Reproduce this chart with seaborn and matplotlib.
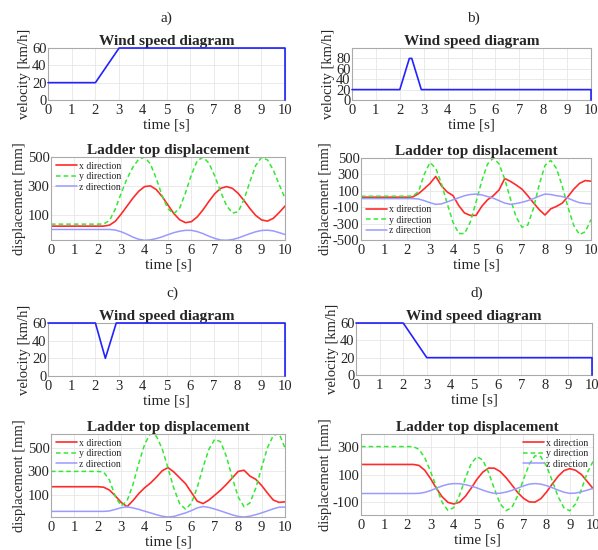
import numpy as np
import seaborn as sns
import matplotlib
matplotlib.use("Agg")
import matplotlib.pyplot as plt

sns.set_style("whitegrid")
plt.rcParams['font.family'] = ['Liberation Serif', 'DejaVu Serif']
plt.rcParams['axes.unicode_minus'] = False

# wind speed profiles: time [s] / velocity [km/h]
wind_a_t = [0, 2, 3, 10, 10]
wind_a_v = [20, 20, 60, 60, 0]
wind_b_t = [0, 2, 2.4, 2.5, 2.9, 10, 10]
wind_b_v = [20, 20, 80, 80, 20, 20, 0]
wind_c_t = [0, 2, 2.42, 2.88, 10, 10]
wind_c_v = [60, 60, 20, 60, 60, 0]
wind_d_t = [0, 2, 3, 10, 10]
wind_d_v = [60, 60, 20, 20, 0]

# ladder top displacement [mm], sampled every 0.25 s
time_s = np.linspace(0, 10, 41)

a_x = [21] * 10 + [28, 55, 105, 160, 215, 263, 295, 300, 274, 226, 167, 108, 65, 45, 52, 85,
                   135, 193, 246, 283, 295, 283, 248, 198, 143, 95, 64, 56, 75, 115, 160]
a_y = [35] * 9 + [36, 60, 140, 250, 350, 430, 485, 499, 451, 350, 232, 141, 107, 147, 252, 378,
                  474, 499, 457, 368, 259, 164, 111, 121, 205, 329, 442, 498, 480, 410, 310, 214]
a_z = [-2] * 11 + [-6, -18, -35, -55, -70, -77, -74, -65, -53, -38, -24, -14, -8, -8, -17,
                   -31, -49, -64, -75, -77, -72, -61, -46, -31, -18, -9, -7, -12, -24, -37]

b_x = [22] * 9 + [25, 65, 125, 190, 275, 160, 85, 42, -80, -170, -200, -200, -90, -10, 40, 110,
                  250, 215, 170, 120, 40, -47, -130, -195, -120, -90, -50, 30, 120, 190, 225, 217]
b_y = [34] * 9 + [36, 90, 300, 445, 375, 186, -57, -285, -420, -422, -283, -39, 220, 425, 500, 429,
                  242, -3, -223, -344, -318, -112, 176, 409, 471, 372, 156, -102, -323, -434, -400, -250]
b_z = [5] * 10 + [0, -20, -45, -65, -60, -35, -10, 15, 40, 55, 60, 50, 30, 10, -20, -50,
                  -65, -55, -40, -20, 5, 35, 60, 55, 40, 30, 10, -20, -45, -55, -60]

c_x = [169] * 9 + [165, 140, 90, 35, -2, 50, 110, 160, 200, 250, 305, 333, 295, 245, 195, 120,
                   45, 25, 55, 97, 140, 190, 245, 300, 310, 260, 232, 180, 115, 55, 35, 40]
c_y = [300] * 9 + [295, 225, 85, 5, 48, 186, 368, 531, 625, 602, 495, 329, 155, 24, -24, 27,
                   163, 338, 490, 575, 553, 426, 243, 81, -2, 30, 156, 332, 502, 608, 625, 500]
c_z = [-42] * 10 + [-38, -25, -10, -3, -12, -25, -40, -55, -70, -83, -90, -85, -70, -55, -35,
                    -12, 0, -8, -22, -38, -55, -72, -85, -90, -83, -70, -55, -38, -20, -6, -5]

d_x = [172] * 10 + [165, 130, 70, 0, -60, -100, -111, -98, -56, 2, 66, 117, 146, 145, 121, 78,
                    26, -28, -70, -96, -98, -73, -25, 33, 88, 128, 142, 130, 100, 50, 0]
d_y = [300] * 10 + [280, 220, 120, 10, -100, -158, -137, -47, 73, 179, 228, 203, 114, -4, -110,
                    -159, -137, -54, 64, 172, 234, 228, 160, 52, -60, -139, -160, -110, -8, 112, 193]
d_z = [-36] * 10 + [-35, -28, -15, 2, 18, 30, 35, 34, 27, 17, 4, -12, -26, -35, -34, -26,
                    -14, 2, 18, 31, 35, 31, 20, 5, -12, -27, -35, -33, -24, -12, 0]

W, H = 598, 550
fig = plt.figure(figsize=(W / 100, H / 100), dpi=100)


def box(l, r, t, b):
    return fig.add_axes([l / W, 1 - b / H, (r - l) / W, (b - t) / H])


def style(ax, title, ylabel, ylim, yticks):
    ax.set_xlim(0, 10)
    ax.set_xticks(range(11))
    ax.set_ylim(*ylim)
    ax.set_yticks(yticks)
    ax.set_title(title, fontsize=11, fontweight='bold', pad=2)
    ax.set_xlabel('time [s]', fontsize=11, labelpad=1)
    ax.set_ylabel(ylabel, fontsize=10.5, labelpad=1)
    ax.tick_params(labelsize=10.5, direction='in', length=2, color='#999999')
    ax.tick_params(axis='x', pad=3)
    ax.tick_params(axis='y', pad=1)
    ax.grid(True, color='#e6e6e6', lw=0.6)
    for s in ax.spines.values():
        s.set_color('#aaaaaa')
        s.set_linewidth(0.8)


def wind(ax, t, v, ylim, yticks):
    sns.lineplot(x=t, y=v, ax=ax, color='#2222ff', lw=1.2, estimator=None, sort=False,
                 clip_on=False, zorder=5)
    style(ax, 'Wind speed diagram', 'velocity [km/h]', ylim, yticks)


def disp(ax, xs, ys, zs, ylim, yticks, loc):
    sns.lineplot(x=time_s, y=xs, ax=ax, color='#ff2a2a', lw=1.2, label='x direction',
                 estimator=None, sort=False)
    sns.lineplot(x=time_s, y=ys, ax=ax, color='#33e833', lw=1.1, linestyle=(0, (3, 2)),
                 label='y direction', estimator=None, sort=False)
    sns.lineplot(x=time_s, y=zs, ax=ax, color='#9a9aff', lw=1.1, label='z direction',
                 estimator=None, sort=False)
    style(ax, 'Ladder top displacement', 'displacement [mm]', ylim, yticks)
    ax.legend(loc=loc, fontsize=7, frameon=False, handlelength=2.2, handletextpad=0.2,
              labelspacing=0.15, borderpad=0.3, borderaxespad=0.2)


wind(box(48, 285, 48, 100), wind_a_t, wind_a_v, (0, 60), [0, 20, 40, 60])
wind(box(352, 591, 48, 100), wind_b_t, wind_b_v, (0, 100), [0, 20, 40, 60, 80])
wind(box(48, 285, 323, 376), wind_c_t, wind_c_v, (0, 60), [0, 20, 40, 60])
wind(box(356, 592, 323, 375), wind_d_t, wind_d_v, (0, 60), [0, 20, 40, 60])

disp(box(51, 285, 157, 240), a_x, a_y, a_z, (-75, 500), [100, 300, 500], 'upper left')
disp(box(361, 591, 158, 240), b_x, b_y, b_z, (-500, 500), [-500, -300, -100, 100, 300, 500], 'lower left')
disp(box(51, 285, 434, 517), c_x, c_y, c_z, (-90, 620), [100, 300, 500], 'upper left')
disp(box(361, 593, 434, 515), d_x, d_y, d_z, (-190, 390), [-100, 100, 300], 'upper right')

for label, x, y in [('a)', 166, 18), ('b)', 473, 18), ('c)', 172, 293), ('d)', 477, 293)]:
    fig.text(x / W, 1 - y / H, label, fontsize=11, ha='center', va='center')

fig.savefig('out.png', dpi=100)
